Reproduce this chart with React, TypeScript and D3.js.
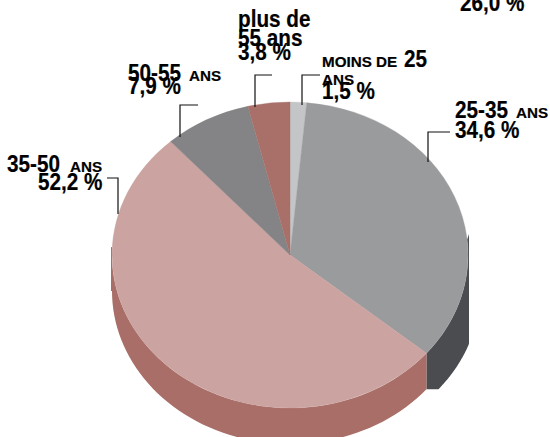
import React from "react";
import * as d3 from "d3";

const categories = ["MOINS DE 25 ANS", "25-35 ANS", "35-50 ANS", "50-55 ANS", "plus de 55 ans"];
const values = [1.5, 34.6, 52.2, 7.9, 3.8];
const topColors = ["#c3c5c7", "#9a9b9d", "#cba3a0", "#848486", "#a9706a"];

const W = 550, H = 437;
const cx = 290, cy = 255, rx = 178, ry = 153, depth = 36;

const BIG = { size: 23, sx: 0.9 };
const SMALL = { size: 14.5, sx: 1.05 };
const labelLayout: { x: number; y: number; s: string; st: { size: number; sx: number } }[] = [
  { x: 460, y: 11, s: "26,0 %", st: BIG },
  { x: 238, y: 27, s: "plus de", st: BIG },
  { x: 238, y: 46, s: "55 ans", st: BIG },
  { x: 238, y: 60, s: "3,8 %", st: BIG },
  { x: 322, y: 67, s: "MOINS DE", st: SMALL },
  { x: 404, y: 67, s: "25", st: BIG },
  { x: 322, y: 85, s: "ANS", st: SMALL },
  { x: 322, y: 99, s: "1,5 %", st: BIG },
  { x: 455, y: 118, s: "25-35", st: BIG },
  { x: 516, y: 118, s: "ANS", st: SMALL },
  { x: 455, y: 138, s: "34,6 %", st: BIG },
  { x: 128, y: 81, s: "50-55", st: BIG },
  { x: 189, y: 81, s: "ANS", st: SMALL },
  { x: 128, y: 94, s: "7,9 %", st: BIG },
  { x: 7, y: 172, s: "35-50", st: BIG },
  { x: 70, y: 172, s: "ANS", st: SMALL },
  { x: 38, y: 190, s: "52,2 %", st: BIG },
];
const leaders = [
  [[428, 162], [428, 132], [450, 132]],
  [[302, 105], [302, 75], [320, 75]],
  [[255, 107], [255, 75], [272, 75]],
  [[180, 137], [180, 105], [198, 105]],
  [[118, 214], [118, 178], [107, 178]],
];

export default function App() {
  const arcs = d3.pie<number>().sort(null).startAngle(0).endAngle(2 * Math.PI)(values);
  const arcGen = d3.arc<d3.PieArcDatum<number>>().innerRadius(0).outerRadius(rx);
  const pt = (a: number, off: number): [number, number] => [
    cx + rx * Math.sin(a),
    cy - ry * Math.cos(a) + off,
  ];
  const line = d3.line();
  const sideBoundary = arcs[1].endAngle;
  const angles = (a0: number, a1: number) =>
    d3.range(0, 61).map((i) => a0 + ((a1 - a0) * i) / 60);
  const boundaryBottom = pt(sideBoundary, depth);

  const darkPts: [number, number][] = [
    [469, 234],
    ...angles(Math.PI / 2, sideBoundary).map((a): [number, number] => {
      const [x, y] = pt(a, depth);
      return [Math.min(x + 12, 469), Math.min(y, boundaryBottom[1])];
    }),
    boundaryBottom,
    ...angles(sideBoundary, Math.PI / 2 - 0.1).map((a) => pt(a, 0)),
  ];
  const pinkPts: [number, number][] = [
    ...angles(sideBoundary, 1.5 * Math.PI).map((a) => pt(a, depth)),
    [cx - rx - 1, cy + depth],
    [cx - rx - 1, 247],
    ...angles(1.5 * Math.PI + 0.05, sideBoundary).map((a) => pt(a, 0)),
  ];

  return (
    <svg
      width={W}
      height={H}
      viewBox={`0 0 ${W} ${H}`}
      style={{ position: "fixed", left: 0, top: 0, background: "#fff" }}
    >
      <path d={line(darkPts) + "Z"} fill="#4b4c50" />
      <path d={line(pinkPts) + "Z"} fill="#a86e67" />
      <g transform={`translate(${cx},${cy}) scale(1,${ry / rx})`}>
        {arcs.map((d, i) => (
          <path
            key={categories[i]}
            d={arcGen(d) as string}
            fill={topColors[i]}
            stroke={topColors[i]}
            strokeWidth={0.4}
          />
        ))}
      </g>
      {leaders.map((l, i) => (
        <path
          key={i}
          d={line(l as [number, number][]) as string}
          fill="none"
          stroke="#111"
          strokeWidth={1.2}
        />
      ))}
      <g
        fontFamily="'Liberation Sans', Arial, sans-serif"
        fontWeight="bold"
        fill="#000"
        stroke="#000"
        strokeWidth={0.2}
      >
        {labelLayout.map((t, i) => (
          <text
            key={i}
            transform={`translate(${t.x},${t.y}) scale(${t.st.sx},1)`}
            fontSize={t.st.size}
          >
            {t.s}
          </text>
        ))}
      </g>
    </svg>
  );
}
